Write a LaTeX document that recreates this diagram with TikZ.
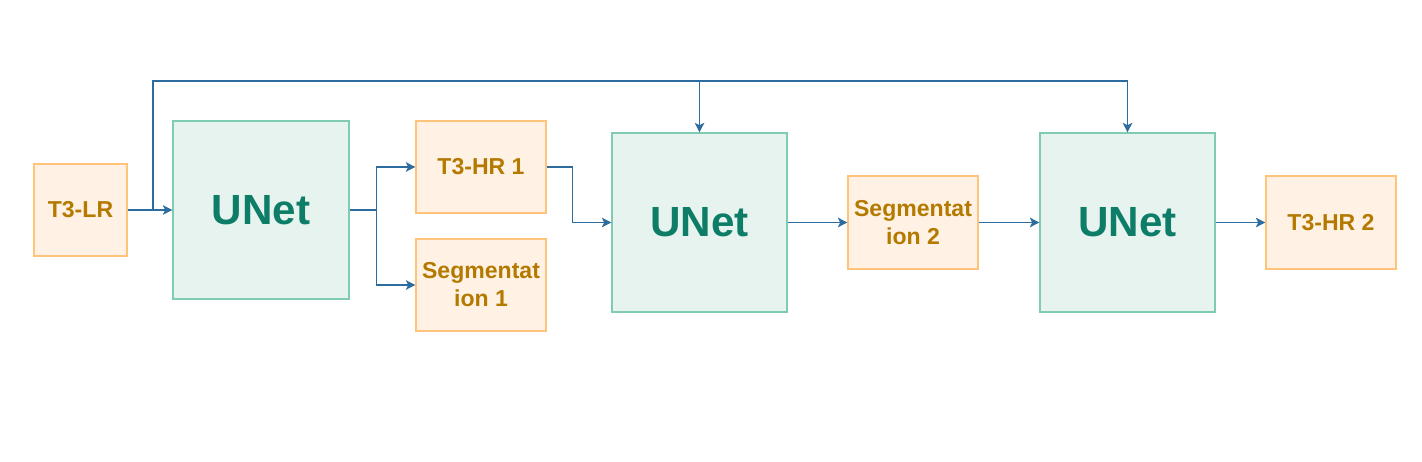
\documentclass[tikz,border=0pt]{standalone}
\usepackage{fontspec}
\setmainfont{Liberation Sans}
\usepackage{tikz}
\usetikzlibrary{positioning,arrows.meta}

\definecolor{imgfill}{HTML}{FFF1E4}
\definecolor{imgdraw}{HTML}{FFC47A}
\definecolor{imgtext}{HTML}{B47A00}
\definecolor{netfill}{HTML}{E6F3EE}
\definecolor{netdraw}{HTML}{80CCB3}
\definecolor{nettext}{HTML}{0E7D67}
\definecolor{flowcol}{HTML}{2D6C9E}

\tikzset{
  imgbox/.style={draw=imgdraw, fill=imgfill, line width=0.8pt, text=imgtext,
    align=center, inner sep=0pt,
    font=\fontsize{16.4}{19.9}\selectfont\bfseries},
  netbox/.style={draw=netdraw, fill=netfill, line width=0.8pt, text=nettext,
    inner sep=0pt, minimum width=4.4cm, minimum height=4.45cm,
    font=\fontsize{30}{36}\selectfont\bfseries},
  flow/.style={draw=flowcol, line width=0.8pt, -{Stealth[length=2.4mm,width=2.4mm,inset=0.6mm]}}
}

\begin{document}
\begin{tikzpicture}
\useasboundingbox (0,0) rectangle (35.55,-11.55);

% input
\node[imgbox, minimum width=2.325cm, minimum height=2.3cm] (lr) at (2.0125,-5.25) {T3-LR};

% first network and its outputs
\node[netbox] (u1) at (6.525,-5.25) {UNet};
\node[imgbox, minimum width=3.25cm, minimum height=2.3cm] (hr1) at (12.025,-4.175) {T3-HR 1};
\node[imgbox, minimum width=3.25cm, minimum height=2.3cm] (seg1) at (12.025,-7.125) {Segmentat\\ion 1};

% second network
\node[netbox, minimum width=4.375cm, minimum height=4.475cm] (u2) at (17.4875,-5.5625) {UNet};
\node[imgbox, minimum width=3.25cm, minimum height=2.325cm] (seg2) at (22.825,-5.5625) {Segmentat\\ion 2};

% third network
\node[netbox, minimum width=4.375cm, minimum height=4.475cm] (u3) at (28.1875,-5.5625) {UNet};
\node[imgbox, minimum width=3.25cm, minimum height=2.325cm] (hr2) at (33.275,-5.5625) {T3-HR 2};

% main path
\draw[flow] (lr) -- (u1);
\draw[flow] (u1.east) -- ++(0.675,0) |- (hr1.west);
\draw[flow] (u1.east) -- ++(0.675,0) |- (seg1.west);
\draw[flow] (hr1.east) -- ++(0.65,0) |- (u2.west);
\draw[flow] (u2) -- (seg2);
\draw[flow] (seg2) -- (u3);
\draw[flow] (u3) -- (hr2);

% skip connection of the input
\coordinate (split) at (3.825,-5.25);
\coordinate (top) at (3.825,-2.025);
\draw[flow] (split) -- (top) -| (u3.north);
\draw[flow] (u2.north |- top) -- (u2.north);

\end{tikzpicture}
\end{document}
